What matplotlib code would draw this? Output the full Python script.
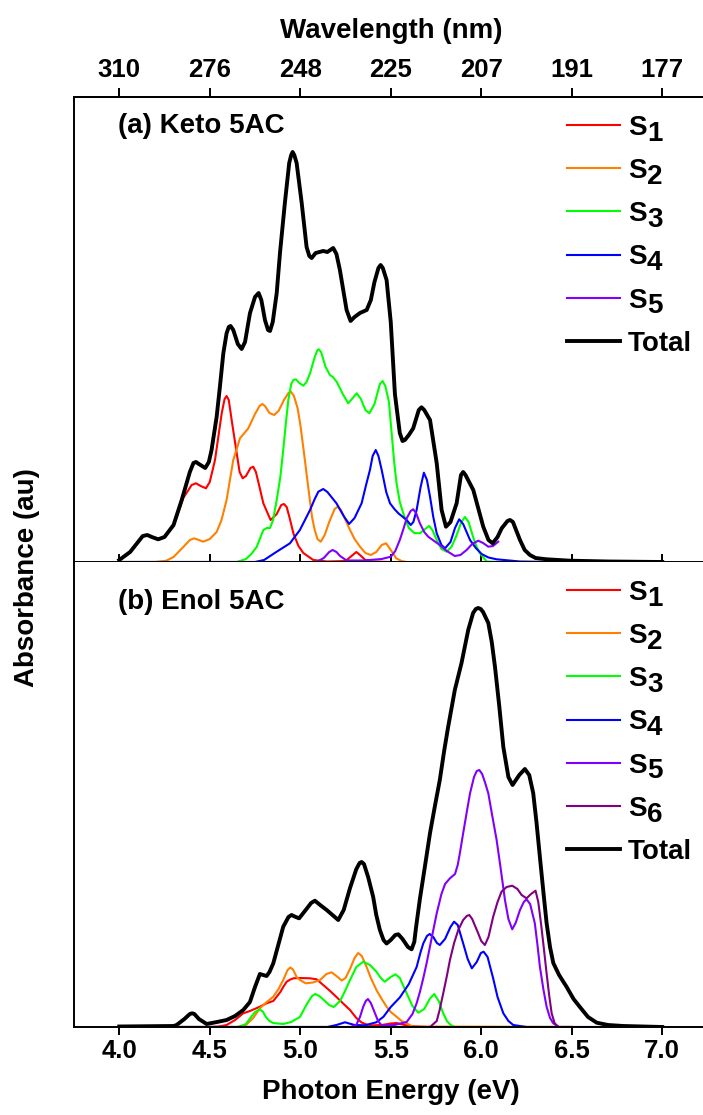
import matplotlib
matplotlib.use("Agg")
import matplotlib.pyplot as plt

# ---- (a) Keto 5AC : energy (eV) / absorbance (au) ----
a_total_e = [4.00, 4.06, 4.13, 4.155, 4.18, 4.215, 4.25, 4.30, 4.345, 4.39, 4.41, 4.424, 4.44, 4.475,
             4.495, 4.51, 4.538, 4.556, 4.575, 4.593, 4.605, 4.615, 4.63, 4.655, 4.676, 4.695, 4.722,
             4.75, 4.77, 4.785, 4.805, 4.822, 4.833, 4.848, 4.87, 4.888, 4.915, 4.939, 4.95, 4.958,
             4.967, 4.98, 5.008, 5.035, 5.05, 5.063, 5.085, 5.127, 5.15, 5.182, 5.20, 5.219, 5.256,
             5.278, 5.30, 5.33, 5.367, 5.39, 5.41, 5.432, 5.444, 5.456, 5.477, 5.50, 5.523, 5.55,
             5.565, 5.578, 5.60, 5.624, 5.655, 5.67, 5.685, 5.717, 5.754, 5.781, 5.805, 5.83, 5.864,
             5.888, 5.90, 5.913, 5.956, 6.011, 6.04, 6.063, 6.09, 6.113, 6.145, 6.159, 6.175, 6.214,
             6.24, 6.269, 6.30, 6.361, 6.49, 6.70, 7.00]
a_total = [0.02, 0.10, 0.26, 0.27, 0.25, 0.227, 0.25, 0.37, 0.62, 0.90, 0.99, 1.00, 0.98, 0.94,
           1.00, 1.12, 1.45, 1.75, 2.087, 2.287, 2.35, 2.36, 2.32, 2.18, 2.13, 2.20, 2.487,
           2.65, 2.69, 2.62, 2.42, 2.32, 2.31, 2.40, 2.69, 3.09, 3.59, 3.99, 4.07, 4.10,
           4.07, 3.99, 3.59, 3.15, 3.06, 3.04, 3.09, 3.11, 3.10, 3.14, 3.08, 2.92, 2.52,
           2.41, 2.45, 2.49, 2.52, 2.62, 2.80, 2.94, 2.97, 2.94, 2.82, 2.40, 1.68, 1.29,
           1.21, 1.22, 1.27, 1.337, 1.52, 1.547, 1.52, 1.42, 0.987, 0.52, 0.353, 0.40, 0.587,
           0.87, 0.90, 0.87, 0.72, 0.353, 0.22, 0.187, 0.25, 0.337, 0.41, 0.42, 0.40, 0.22,
           0.12, 0.07, 0.04, 0.027, 0.013, 0.005, 0.0]

a_s1_e = [4.00, 4.06, 4.13, 4.155, 4.18, 4.215, 4.25, 4.30, 4.354, 4.40, 4.424, 4.45, 4.479, 4.50,
          4.529, 4.566, 4.582, 4.593, 4.605, 4.621, 4.649, 4.665, 4.682, 4.70, 4.725, 4.74, 4.755,
          4.775, 4.796, 4.836, 4.87, 4.895, 4.91, 4.925, 4.94, 4.962, 4.99, 5.017, 5.072, 5.15,
          5.25, 5.29, 5.31, 5.33, 5.36, 5.40, 5.50]
a_s1 = [0.02, 0.10, 0.26, 0.27, 0.25, 0.227, 0.25, 0.36, 0.64, 0.77, 0.787, 0.76, 0.737, 0.80,
        1.02, 1.487, 1.63, 1.66, 1.62, 1.42, 1.087, 0.90, 0.837, 0.86, 0.94, 0.953, 0.90,
        0.75, 0.587, 0.42, 0.48, 0.57, 0.58, 0.55, 0.45, 0.287, 0.16, 0.09, 0.02, 0.005,
        0.01, 0.07, 0.10, 0.07, 0.02, 0.005, 0.0]

a_s2_e = [4.00, 4.20, 4.26, 4.30, 4.354, 4.39, 4.414, 4.44, 4.464, 4.50, 4.538, 4.565, 4.593, 4.63,
          4.667, 4.713, 4.75, 4.775, 4.79, 4.805, 4.83, 4.856, 4.88, 4.91, 4.935, 4.949, 4.965,
          4.985, 5.00, 5.02, 5.044, 5.065, 5.08, 5.095, 5.113, 5.135, 5.16, 5.19, 5.207, 5.225,
          5.25, 5.275, 5.30, 5.33, 5.36, 5.39, 5.42, 5.45, 5.474, 5.50, 5.53, 5.56, 5.588, 6.00]
a_s2 = [0.0, 0.0, 0.013, 0.05, 0.15, 0.22, 0.237, 0.22, 0.203, 0.23, 0.30, 0.42, 0.62, 1.02,
        1.237, 1.337, 1.48, 1.56, 1.58, 1.56, 1.49, 1.47, 1.51, 1.62, 1.69, 1.703, 1.66,
        1.54, 1.38, 1.10, 0.75, 0.45, 0.32, 0.23, 0.203, 0.27, 0.40, 0.53, 0.553, 0.52,
        0.42, 0.32, 0.23, 0.153, 0.09, 0.07, 0.10, 0.17, 0.187, 0.12, 0.037, 0.01, 0.0, 0.0]

a_s3_e = [4.00, 4.65, 4.70, 4.73, 4.759, 4.796, 4.815, 4.833, 4.85, 4.87, 4.89, 4.906, 4.92, 4.934,
          4.95, 4.962, 4.976, 4.995, 5.017, 5.035, 5.054, 5.08, 5.095, 5.103, 5.115, 5.14, 5.164,
          5.18, 5.201, 5.235, 5.265, 5.29, 5.312, 5.335, 5.36, 5.382, 5.41, 5.44, 5.455, 5.47,
          5.49, 5.505, 5.52, 5.532, 5.55, 5.569, 5.60, 5.63, 5.661, 5.69, 5.712, 5.73, 5.754,
          5.78, 5.809, 5.835, 5.86, 5.89, 5.91, 5.93, 5.955, 5.975, 5.993, 6.03, 6.10]
a_s3 = [0.0, 0.0, 0.03, 0.08, 0.15, 0.32, 0.34, 0.34, 0.42, 0.62, 0.85, 1.12, 1.38, 1.62,
        1.78, 1.82, 1.827, 1.79, 1.763, 1.80, 1.887, 2.05, 2.12, 2.127, 2.10, 1.95, 1.87,
        1.85, 1.803, 1.68, 1.587, 1.64, 1.687, 1.63, 1.52, 1.487, 1.58, 1.78, 1.81, 1.76,
        1.60, 1.287, 0.98, 0.787, 0.60, 0.487, 0.34, 0.29, 0.287, 0.33, 0.36, 0.32, 0.22,
        0.13, 0.103, 0.15, 0.25, 0.40, 0.45, 0.40, 0.25, 0.15, 0.087, 0.005, 0.0]

a_s4_e = [4.00, 4.75, 4.80, 4.87, 4.943, 4.998, 5.054, 5.08, 5.10, 5.127, 5.15, 5.20, 5.24, 5.27,
          5.30, 5.339, 5.365, 5.385, 5.40, 5.417, 5.432, 5.45, 5.475, 5.496, 5.52, 5.542, 5.588,
          5.61, 5.625, 5.643, 5.665, 5.683, 5.70, 5.717, 5.735, 5.754, 5.78, 5.80, 5.83, 5.855,
          5.878, 5.90, 5.938, 5.97, 6.002, 6.04, 6.085, 6.214, 6.42]
a_s4 = [0.0, 0.0, 0.02, 0.103, 0.187, 0.32, 0.52, 0.63, 0.703, 0.73, 0.70, 0.587, 0.46, 0.38,
        0.44, 0.587, 0.78, 0.92, 1.06, 1.12, 1.06, 0.92, 0.70, 0.587, 0.53, 0.487, 0.42,
        0.37, 0.40, 0.52, 0.75, 0.893, 0.82, 0.653, 0.45, 0.287, 0.17, 0.137, 0.20, 0.34,
        0.427, 0.38, 0.22, 0.14, 0.08, 0.045, 0.027, 0.005, 0.0]

a_s5_e = [4.00, 5.09, 5.13, 5.16, 5.179, 5.20, 5.22, 5.256, 5.35, 5.45, 5.50, 5.525, 5.55, 5.57,
          5.588, 5.61, 5.624, 5.64, 5.661, 5.685, 5.707, 5.74, 5.771, 5.81, 5.854, 5.885, 5.919,
          5.95, 5.983, 6.01, 6.039, 6.065, 6.094]
a_s5 = [0.0, 0.0, 0.04, 0.10, 0.12, 0.10, 0.06, 0.015, 0.015, 0.03, 0.053, 0.11, 0.22, 0.33,
        0.437, 0.51, 0.527, 0.49, 0.387, 0.30, 0.253, 0.21, 0.17, 0.11, 0.06, 0.07, 0.12,
        0.18, 0.213, 0.19, 0.153, 0.16, 0.203]

# ---- (b) Enol 5AC ----
b_total_e = [4.00, 4.30, 4.317, 4.36, 4.39, 4.403, 4.415, 4.44, 4.483, 4.54, 4.593, 4.64, 4.685, 4.722,
             4.75, 4.777, 4.795, 4.814, 4.83, 4.851, 4.88, 4.906, 4.935, 4.952, 4.975, 4.994, 5.03,
             5.06, 5.081, 5.11, 5.146, 5.21, 5.24, 5.275, 5.31, 5.328, 5.339, 5.352, 5.375, 5.403,
             5.42, 5.44, 5.46, 5.477, 5.50, 5.525, 5.542, 5.565, 5.595, 5.615, 5.63, 5.64, 5.661,
             5.69, 5.717, 5.745, 5.771, 5.795, 5.817, 5.854, 5.891, 5.928, 5.955, 5.97, 5.983, 5.997,
             6.01, 6.039, 6.058, 6.076, 6.10, 6.122, 6.15, 6.173, 6.21, 6.241, 6.265, 6.287, 6.305,
             6.324, 6.345, 6.361, 6.38, 6.398, 6.43, 6.472, 6.51, 6.545, 6.59, 6.638, 6.70, 6.785, 7.00]
b_total = [0.005, 0.01, 0.02, 0.08, 0.13, 0.137, 0.13, 0.08, 0.03, 0.05, 0.07, 0.11, 0.17, 0.25,
           0.40, 0.53, 0.52, 0.51, 0.55, 0.637, 0.83, 1.003, 1.10, 1.12, 1.10, 1.087, 1.17,
           1.24, 1.263, 1.22, 1.17, 1.07, 1.17, 1.39, 1.58, 1.64, 1.65, 1.63, 1.50, 1.30,
           1.12, 0.97, 0.87, 0.835, 0.87, 0.92, 0.927, 0.88, 0.80, 0.777, 0.85, 1.00, 1.28,
           1.62, 1.94, 2.22, 2.47, 2.76, 3.00, 3.37, 3.64, 3.97, 4.14, 4.18, 4.19, 4.18,
           4.15, 4.04, 3.85, 3.60, 3.20, 2.80, 2.50, 2.42, 2.52, 2.58, 2.52, 2.34, 2.05,
           1.70, 1.32, 1.04, 0.80, 0.64, 0.52, 0.40, 0.28, 0.20, 0.10, 0.043, 0.02, 0.01, 0.0]

b_s1_e = [4.00, 4.50, 4.55, 4.593, 4.64, 4.685, 4.722, 4.777, 4.814, 4.851, 4.87, 4.89, 4.906, 4.925,
          4.945, 4.962, 5.00, 5.054, 5.09, 5.127, 5.165, 5.20, 5.24, 5.275, 5.31, 5.339, 5.38,
          5.45, 5.50, 5.532, 5.565, 5.60, 5.70, 6.50]
b_s1 = [0.0, 0.0, 0.005, 0.02, 0.07, 0.137, 0.16, 0.203, 0.237, 0.26, 0.303, 0.35, 0.40, 0.453,
        0.475, 0.487, 0.49, 0.487, 0.477, 0.42, 0.36, 0.30, 0.23, 0.17, 0.09, 0.045, 0.015,
        0.02, 0.035, 0.04, 0.025, 0.01, 0.0, 0.0]

b_s2_e = [4.00, 4.65, 4.70, 4.74, 4.777, 4.815, 4.851, 4.88, 4.906, 4.93, 4.945, 4.96, 4.98, 4.998,
          5.03, 5.07, 5.109, 5.145, 5.173, 5.20, 5.229, 5.25, 5.275, 5.30, 5.32, 5.34, 5.366,
          5.39, 5.421, 5.45, 5.477, 5.50, 5.532, 5.56, 5.588, 5.62, 6.50]
b_s2 = [0.0, 0.0, 0.02, 0.09, 0.187, 0.25, 0.303, 0.38, 0.47, 0.57, 0.595, 0.575, 0.50, 0.47,
        0.437, 0.445, 0.47, 0.53, 0.547, 0.51, 0.465, 0.49, 0.58, 0.69, 0.74, 0.71, 0.603,
        0.49, 0.37, 0.28, 0.203, 0.15, 0.103, 0.06, 0.037, 0.005, 0.0]

b_s3_e = [4.00, 4.66, 4.70, 4.72, 4.75, 4.777, 4.795, 4.81, 4.83, 4.85, 4.906, 4.95, 4.998, 5.04,
          5.065, 5.083, 5.105, 5.13, 5.16, 5.185, 5.22, 5.245, 5.275, 5.31, 5.348, 5.385, 5.421,
          5.445, 5.467, 5.50, 5.526, 5.55, 5.588, 5.62, 5.652, 5.685, 5.715, 5.74, 5.765, 5.79,
          5.81, 5.827, 5.85, 6.50]
b_s3 = [0.0, 0.0, 0.03, 0.08, 0.15, 0.177, 0.15, 0.10, 0.06, 0.04, 0.03, 0.05, 0.10, 0.24,
        0.31, 0.33, 0.31, 0.27, 0.22, 0.20, 0.26, 0.35, 0.47, 0.60, 0.653, 0.62, 0.553,
        0.49, 0.453, 0.50, 0.527, 0.49, 0.337, 0.21, 0.143, 0.18, 0.28, 0.33, 0.26, 0.137,
        0.06, 0.027, 0.0, 0.0]

b_s4_e = [4.00, 5.15, 5.20, 5.247, 5.30, 5.357, 5.42, 5.46, 5.50, 5.55, 5.60, 5.643, 5.665, 5.68,
          5.70, 5.715, 5.735, 5.755, 5.771, 5.80, 5.83, 5.85, 5.87, 5.90, 5.925, 5.948, 5.975,
          5.998, 6.013, 6.035, 6.066, 6.09, 6.122, 6.15, 6.177, 6.25, 6.50]
b_s4 = [0.0, 0.0, 0.02, 0.047, 0.02, 0.017, 0.047, 0.103, 0.20, 0.295, 0.43, 0.60, 0.75, 0.837,
        0.91, 0.93, 0.90, 0.84, 0.82, 0.88, 1.00, 1.053, 1.02, 0.837, 0.68, 0.587, 0.65,
        0.74, 0.753, 0.70, 0.485, 0.30, 0.137, 0.06, 0.02, 0.0, 0.0]

b_s5_e = [4.00, 5.28, 5.31, 5.33, 5.348, 5.362, 5.374, 5.39, 5.413, 5.43, 5.45, 5.52, 5.588, 5.62,
          5.643, 5.661, 5.68, 5.698, 5.725, 5.754, 5.78, 5.80, 5.827, 5.855, 5.87, 5.882, 5.90,
          5.92, 5.938, 5.96, 5.975, 5.989, 6.005, 6.02, 6.039, 6.06, 6.085, 6.11, 6.131, 6.15,
          6.171, 6.19, 6.214, 6.235, 6.25, 6.27, 6.296, 6.31, 6.324, 6.343, 6.361, 6.38, 6.398,
          6.43, 7.00]
b_s5 = [0.0, 0.0, 0.023, 0.10, 0.203, 0.26, 0.28, 0.24, 0.137, 0.06, 0.015, 0.02, 0.05, 0.13,
        0.237, 0.35, 0.49, 0.637, 0.88, 1.137, 1.33, 1.43, 1.487, 1.53, 1.62, 1.74, 1.937,
        2.15, 2.337, 2.50, 2.56, 2.57, 2.53, 2.45, 2.337, 2.12, 1.87, 1.55, 1.27, 1.08,
        0.977, 1.04, 1.17, 1.25, 1.277, 1.23, 1.037, 0.83, 0.603, 0.38, 0.203, 0.09, 0.037,
        0.0, 0.0]

b_s6_e = [4.00, 5.717, 5.754, 5.77, 5.79, 5.81, 5.827, 5.85, 5.873, 5.90, 5.92, 5.934, 5.95, 5.983,
          6.00, 6.02, 6.04, 6.066, 6.09, 6.112, 6.14, 6.171, 6.20, 6.223, 6.25, 6.275, 6.30,
          6.315, 6.33, 6.345, 6.361, 6.375, 6.389, 6.405, 6.425, 7.00]
b_s6 = [0.0, 0.0, 0.06, 0.17, 0.337, 0.51, 0.67, 0.84, 0.97, 1.07, 1.11, 1.12, 1.08, 0.937,
        0.86, 0.82, 0.90, 1.103, 1.25, 1.353, 1.40, 1.413, 1.38, 1.32, 1.287, 1.33, 1.363,
        1.25, 1.037, 0.80, 0.537, 0.32, 0.137, 0.04, 0.0, 0.0]

tick_ev = [4.0, 4.5, 5.0, 5.5, 6.0, 6.5, 7.0]
tick_nm = [310, 276, 248, 225, 207, 191, 177]

state_colors = ["#FF0000", "#FF8000", "#00FF00", "#0000FF", "#8000FF", "#800080"]

plt.rcParams["font.family"] = ["Liberation Sans", "DejaVu Sans"]
plt.rcParams["font.weight"] = "bold"

FS = 20
fig = plt.figure(figsize=(7.03, 11.15), dpi=100)
L, W, H = 74 / 703, 633.5 / 703, 465 / 1115
ax_a = fig.add_axes([L, 1 - 562 / 1115, W, H])
ax_b = fig.add_axes([L, 1 - 1027 / 1115, W, H])

panels = [
    (ax_a, "(a) Keto 5AC", 0.9376,
     [(a_s1_e, a_s1), (a_s2_e, a_s2), (a_s3_e, a_s3), (a_s4_e, a_s4), (a_s5_e, a_s5)],
     (a_total_e, a_total)),
    (ax_b, "(b) Enol 5AC", 0.914,
     [(b_s1_e, b_s1), (b_s2_e, b_s2), (b_s3_e, b_s3), (b_s4_e, b_s4), (b_s5_e, b_s5), (b_s6_e, b_s6)],
     (b_total_e, b_total)),
]

for ax, title, ty, states, (te, tv) in panels:
    lines, names = [], []
    for i, (e, v) in enumerate(states):
        ln, = ax.plot(e, v, color=state_colors[i], lw=1.5, solid_joinstyle="round")
        lines.append(ln); names.append(f"S{i + 1}")
    ln, = ax.plot(te, tv, color="black", lw=2.8, solid_joinstyle="round")
    lines.append(ln); names.append("Total")

    ax.set_xlim(3.75, 7.25)
    ax.set_ylim(0, 4.65)
    ax.set_yticks([])
    for sp in ax.spines.values():
        sp.set_linewidth(1.4)
    ax.text(0.0695, ty, title, transform=ax.transAxes, fontsize=FS, fontweight="bold",
            ha="left", va="center")

    leg = ax.legend(lines, ["S" if n != "Total" else n for n in names], loc="upper left",
                    bbox_to_anchor=(0.778, 0.962), frameon=False, fontsize=FS,
                    handlelength=1.9, handletextpad=0.3, labelspacing=0.62,
                    borderpad=0, borderaxespad=0)
    # subscript digits drawn full size and dropped, as in the original
    for txt, n in zip(leg.get_texts(), names):
        if n != "Total":
            ax.annotate(n[1:], xy=(1, 0), xycoords=txt, xytext=(0.3, -4.2),
                        textcoords="offset points", fontsize=FS, fontweight="bold",
                        ha="left", va="bottom", zorder=10, annotation_clip=False)

# top panel: crossing ticks at the shared boundary, wavelength scale on top
ax_a.set_xticks(tick_ev)
ax_a.tick_params(axis="x", direction="inout", length=12, width=1.4, labelbottom=False)
sec = ax_a.secondary_xaxis("top")
sec.set_xticks(tick_ev, labels=[str(v) for v in tick_nm])
sec.tick_params(direction="out", length=6.5, width=1.4, labelsize=18.5, pad=4)
sec.spines["top"].set_linewidth(1.4)
sec.set_xlabel("Wavelength (nm)", fontsize=FS, fontweight="bold", labelpad=14.5)

ax_b.set_xticks(tick_ev, labels=[f"{v:.1f}" for v in tick_ev])
ax_b.tick_params(axis="x", direction="out", length=5.8, width=1.4, labelsize=18.5, pad=2.5)
ax_b.spines["top"].set_visible(False)
ax_b.set_xlabel("Photon Energy (eV)", fontsize=FS, fontweight="bold", labelpad=12)

fig.text(27 / 703, 1 - 578 / 1115, "Absorbance (au)", rotation=90, fontsize=FS,
         fontweight="bold", ha="center", va="center")

fig.savefig("out.png", dpi=100)
